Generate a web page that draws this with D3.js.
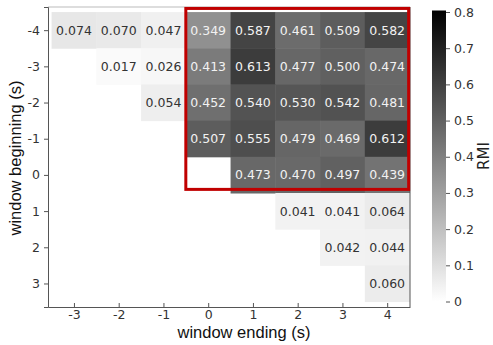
<!DOCTYPE html>
<html>
    <head>
        <meta charset="utf-8">
        <title>RMI heatmap</title>
        <script src="https://d3js.org/d3.v7.min.js"></script>
        <style type="text/css">
            body {
                margin: 0;
                background: #fff;
            }
            .tick text {
                font: 12.5px "DejaVu Sans", sans-serif;
                fill: #333;
            }
            .cell text {
                font: 12.5px "DejaVu Sans", sans-serif;
            }
            .label {
                font: 16.5px "Liberation Sans", Arial, sans-serif;
                fill: #111;
            }
        </style>
    </head>
    <body>
        <svg id="chart" width="493" height="345"></svg>
        <script>
            // window ending (columns) / window beginning (rows)
            var ending = [-3, -2, -1, 0, 1, 2, 3, 4];
            var beginning = [-4, -3, -2, -1, 0, 1, 2, 3];
            var endingLabels = ["-3", "-2", "-1", "0", "1", "2", "3", "4"];
            var beginningLabels = ["-4", "-3", "-2", "-1", "0", "1", "2", "3"];

            // RMI values, one row per window beginning (null = empty cell)
            var rmi = [
                [0.074, 0.070, 0.047, 0.349, 0.587, 0.461, 0.509, 0.582],
                [null,  0.017, 0.026, 0.413, 0.613, 0.477, 0.500, 0.474],
                [null,  null,  0.054, 0.452, 0.540, 0.530, 0.542, 0.481],
                [null,  null,  null,  0.507, 0.555, 0.479, 0.469, 0.612],
                [null,  null,  null,  null,  0.473, 0.470, 0.497, 0.439],
                [null,  null,  null,  null,  null,  0.041, 0.041, 0.064],
                [null,  null,  null,  null,  null,  null,  0.042, 0.044],
                [null,  null,  null,  null,  null,  null,  null,  0.060]
            ];

            var cbarTicks = [0, 0.1, 0.2, 0.3, 0.4, 0.5, 0.6, 0.7, 0.8];
            var cbarLabels = ["0", "0.1", "0.2", "0.3", "0.4", "0.5", "0.6", "0.7", "0.8"];

            // highlighted block (in data units)
            var boxEnding = [-0.5, 4.48];
            var boxBeginning = [-4.6, 0.4];

            var svg = d3.select("#chart");

            var x = d3.scaleLinear().domain([-3.58, 4.51]).range([48, 410]);
            var y = d3.scaleLinear().domain([-4.64, 3.65]).range([7, 307]);
            var color = d3.scaleLinear().domain([0, 0.8]).range(["#ffffff", "#000000"]).clamp(true);

            var cw = x(0.5) - x(-0.5);
            var ch = y(0.5) - y(-0.5);

            // flatten the matrix into cells
            var cells = [];
            rmi.forEach(function(row, i) {
                row.forEach(function(v, j) {
                    if (v !== null) cells.push({b: beginning[i], e: ending[j], v: v});
                });
            });

            var cell = svg.append("g").selectAll("g")
                .data(cells)
                .enter().append("g")
                    .attr("class", "cell");

            cell.append("rect")
                .attr("x", d => x(d.e) - cw / 2)
                .attr("y", d => y(d.b) - ch / 2)
                .attr("width", cw + 0.5)
                .attr("height", ch + 0.5)
                .attr("fill", d => color(d.v));

            cell.append("text")
                .attr("x", d => x(d.e))
                .attr("y", d => y(d.b))
                .attr("dy", "0.36em")
                .attr("text-anchor", "middle")
                .attr("fill", d => d.v > 0.2 ? "#f2f2f2" : "#333")
                .text(d => d.v.toFixed(3));

            // frame
            var frame = svg.append("g");
            frame.append("line").attr("x1", 48).attr("x2", 410).attr("y1", 7).attr("y2", 7)
                .attr("stroke", "#bbb");
            frame.append("line").attr("x1", 410).attr("x2", 410).attr("y1", 7).attr("y2", 307)
                .attr("stroke", "#555");

            // axes
            var xAxis = d3.axisBottom(x)
                .tickValues(ending)
                .tickFormat((d, i) => endingLabels[i])
                .tickSizeOuter(0)
                .tickSizeInner(-4)
                .tickPadding(3);
            svg.append("g")
                .attr("transform", "translate(0,307)")
                .call(xAxis)
                .call(g => g.select(".domain").attr("stroke", "#555"))
                .call(g => g.selectAll(".tick line").attr("stroke", "#555"));

            var yAxis = d3.axisLeft(y)
                .tickValues(beginning)
                .tickFormat((d, i) => beginningLabels[i])
                .tickSizeOuter(0)
                .tickSize(4)
                .tickPadding(4);
            svg.append("g")
                .attr("transform", "translate(48,0)")
                .call(yAxis)
                .call(g => g.select(".domain").attr("stroke", "#555"))
                .call(g => g.selectAll(".tick line").attr("stroke", "#555"));

            // red highlight box
            svg.append("rect")
                .attr("x", x(boxEnding[0]))
                .attr("y", y(boxBeginning[0]))
                .attr("width", x(boxEnding[1]) - x(boxEnding[0]))
                .attr("height", y(boxBeginning[1]) - y(boxBeginning[0]))
                .attr("fill", "none")
                .attr("stroke", "#c00000")
                .attr("stroke-width", 3);

            // axis labels
            svg.append("text")
                .attr("class", "label")
                .attr("x", 244)
                .attr("y", 337.5)
                .attr("text-anchor", "middle")
                .text("window ending (s)");

            svg.append("text")
                .attr("class", "label")
                .attr("transform", "translate(21,158) rotate(-90)")
                .attr("text-anchor", "middle")
                .text("window beginning (s)");

            // colorbar
            var cy = d3.scaleLinear().domain([0, 0.8]).range([301.5, 12]);
            var defs = svg.append("defs");
            var grad = defs.append("linearGradient")
                .attr("id", "cbar")
                .attr("x1", 0).attr("y1", 1).attr("x2", 0).attr("y2", 0);
            grad.selectAll("stop")
                .data(cbarTicks)
                .enter().append("stop")
                    .attr("offset", d => d / 0.8)
                    .attr("stop-color", d => color(d));

            svg.append("rect")
                .attr("x", 432)
                .attr("y", cy(0.8) - 1.5)
                .attr("width", 14)
                .attr("height", cy(0) - cy(0.8) + 1.5)
                .attr("fill", "url(#cbar)");

            var cAxis = d3.axisRight(cy)
                .tickValues(cbarTicks)
                .tickFormat((d, i) => cbarLabels[i])
                .tickSizeOuter(0)
                .tickSize(4)
                .tickPadding(4);
            svg.append("g")
                .attr("transform", "translate(446,0)")
                .call(cAxis)
                .call(g => g.select(".domain").remove())
                .call(g => g.selectAll(".tick line").attr("stroke", "#555"));

            svg.append("text")
                .attr("transform", "translate(489,156) rotate(-90)")
                .attr("text-anchor", "middle")
                .style("font", "15px 'DejaVu Sans', sans-serif")
                .attr("fill", "#222")
                .text("RMI");
        </script>
    </body>
</html>
